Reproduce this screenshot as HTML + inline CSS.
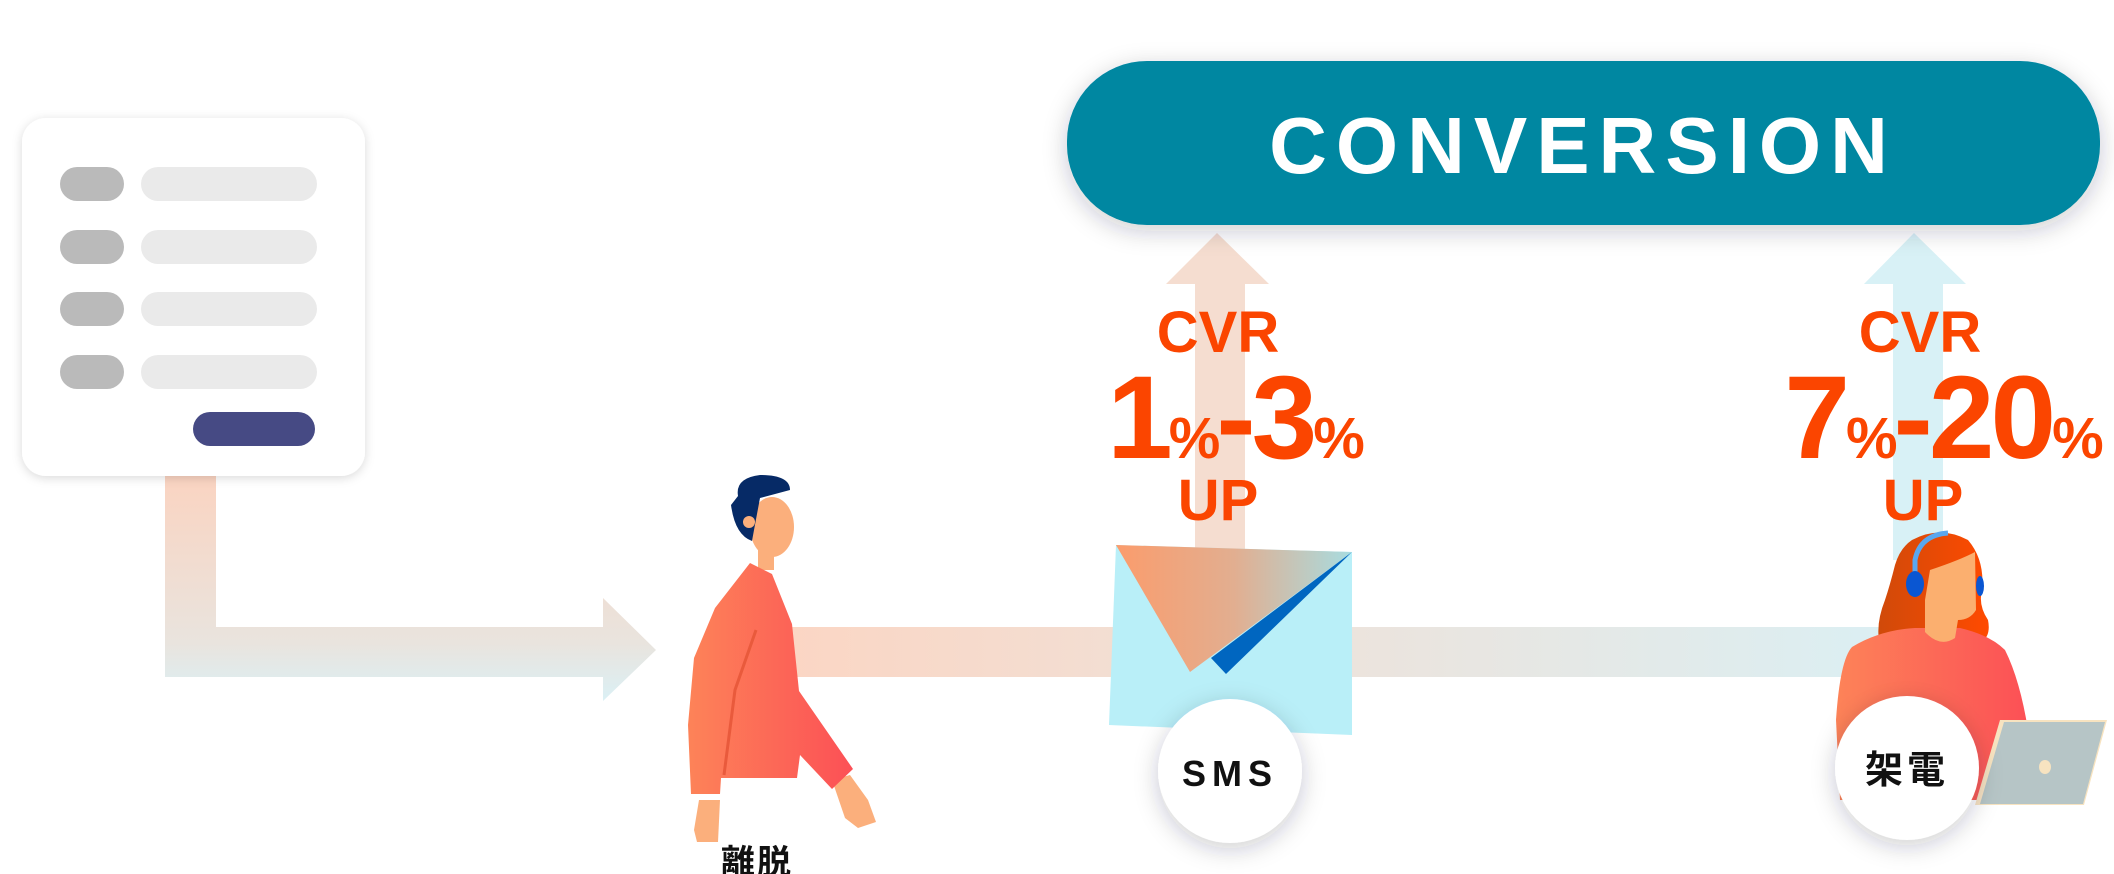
<!DOCTYPE html>
<html><head><meta charset="utf-8"><style>
html,body{margin:0;padding:0;background:#fff;}
body{width:2114px;height:874px;overflow:hidden;position:relative;}
svg{position:absolute;left:0;top:0;}
</style></head><body>
<svg width="2114" height="874" viewBox="0 0 2114 874" xmlns="http://www.w3.org/2000/svg">
<defs>
<linearGradient id="lbar" x1="0" y1="0" x2="0" y2="1">
<stop offset="0" stop-color="#fbd3c0"/><stop offset="0.75" stop-color="#e9e4de"/><stop offset="1" stop-color="#dbf0f5"/></linearGradient>
<linearGradient id="hbar" x1="0" y1="0" x2="1" y2="0">
<stop offset="0" stop-color="#fbd6c4"/><stop offset="0.45" stop-color="#eee2da"/><stop offset="1" stop-color="#dbeff3"/></linearGradient>
<linearGradient id="flap" x1="0" y1="0" x2="1" y2="0">
<stop offset="0" stop-color="#fb9c6c"/><stop offset="0.5" stop-color="#e2ae90"/><stop offset="1" stop-color="#a8dce0"/></linearGradient>
<linearGradient id="shirt" x1="0" y1="0" x2="1" y2="0">
<stop offset="0" stop-color="#fd8358"/><stop offset="1" stop-color="#fc5056"/></linearGradient>
<linearGradient id="hair" x1="0" y1="0" x2="1" y2="0">
<stop offset="0" stop-color="#d04a0a"/><stop offset="1" stop-color="#ff4a00"/></linearGradient>
<filter id="sh" x="-20%" y="-20%" width="140%" height="140%"><feDropShadow dx="0" dy="2" stdDeviation="5" flood-color="#000" flood-opacity="0.15"/></filter>
<filter id="sh2" x="-20%" y="-40%" width="140%" height="180%"><feDropShadow dx="0" dy="6" stdDeviation="12" flood-color="#223" flood-opacity="0.22"/></filter>
</defs>

<path d="M165 470 H216 V627 H603 V598 L656 650 L603 701 V677 H165 Z" fill="url(#lbar)"/>
<rect x="790" y="627" width="1100" height="50" fill="url(#hbar)"/>
<path d="M1195 560 V284 H1166 L1217 233 L1269 284 H1245 V560 Z" fill="#f5ddd0"/>
<path d="M1893 560 V284 H1864 L1914 233 L1966 284 H1943 V560 Z" fill="#d8f1f6"/>

<rect x="22" y="118" width="343" height="358" rx="24" fill="#fff" filter="url(#sh)"/>
<g fill="#bababa"><rect x="60" y="167" width="64" height="34" rx="17"/><rect x="60" y="230" width="64" height="34" rx="17"/><rect x="60" y="292" width="64" height="34" rx="17"/><rect x="60" y="355" width="64" height="34" rx="17"/></g>
<g fill="#eaeaea"><rect x="141" y="167" width="176" height="34" rx="17"/><rect x="141" y="230" width="176" height="34" rx="17"/><rect x="141" y="292" width="176" height="34" rx="17"/><rect x="141" y="355" width="176" height="34" rx="17"/></g>
<rect x="193" y="412" width="122" height="34" rx="17" fill="#464a84"/>

<rect x="1067" y="61" width="1033" height="164" rx="80" fill="#0287a1" filter="url(#sh2)"/>
<text x="1583" y="173" text-anchor="middle" font-family="Liberation Sans, sans-serif" font-weight="bold" font-size="80" letter-spacing="9" fill="#fff">CONVERSION</text>

<g font-family="Liberation Sans, sans-serif" font-weight="bold" fill="#fb4500" text-anchor="middle">
<text x="1218" y="352" font-size="58">CVR</text>
<text x="1234" y="458" font-size="118" letter-spacing="-4">1<tspan font-size="58">%</tspan>-3<tspan font-size="58">%</tspan></text>
<text x="1218" y="520" font-size="58">UP</text>
<text x="1920" y="352" font-size="58">CVR</text>
<text x="1942" y="458" font-size="118" letter-spacing="-4">7<tspan font-size="58">%</tspan>-20<tspan font-size="58">%</tspan></text>
<text x="1923" y="520" font-size="58">UP</text>
</g>

<g>
<path d="M699 800 L694 830 L697 842 L718 842 L720 800 Z" fill="#fbaf7c"/>
<path d="M832 780 L845 818 L858 828 L876 822 L868 800 L850 775 Z" fill="#fbaf7c"/>
<rect x="758" y="530" width="16" height="40" fill="#fbaf7c"/>
<path d="M750 563 L772 574 L792 624 L799 691 L853 769 L832 789 L800 755 L797 778 L721 778 L720 794 L691 794 L688 725 L694 658 L715 608 Z" fill="url(#shirt)"/>
<path d="M756 630 L735 690 L724 775" stroke="#e95a3c" stroke-width="3" fill="none"/>
<ellipse cx="772" cy="527" rx="22" ry="30" fill="#fbaf7c"/>
<path d="M738 496 Q735 478 760 475 Q790 475 790 490 L760 498 L754 530 L752 541 Q735 535 731 505 Z" fill="#062a66"/>
<circle cx="749" cy="522" r="6" fill="#fbaf7c"/>
</g>

<polygon points="1116,545 1352,552 1352,735 1109,725" fill="#b9eff8"/>
<polygon points="1116,545 1352,552 1190,672" fill="url(#flap)"/>
<polygon points="1352,552 1211,658 1226,674" fill="#0066c0"/>

<g>
<path d="M1912 540 Q1940 525 1968 540 Q1985 560 1982 590 Q1978 605 1988 620 Q1992 640 1975 645 L1880 645 Q1875 625 1885 600 Q1890 585 1895 565 Q1900 548 1912 540 Z" fill="url(#hair)"/>
<path d="M1852 647 Q1880 630 1915 628 L1960 628 Q1990 635 2005 650 Q2020 680 2028 730 L2020 800 L1840 800 L1836 720 Q1840 660 1852 647 Z" fill="url(#shirt)"/>
<path d="M1930 570 Q1960 560 1975 552 L1976 610 Q1970 620 1958 620 L1955 638 Q1940 648 1925 632 L1925 600 Z" fill="#fbaf6f"/>
<path d="M1915 585 L1915 560 Q1920 535 1948 533" stroke="#5aa7ef" stroke-width="5" fill="none"/>
<ellipse cx="1915" cy="584" rx="9" ry="13" fill="#0a56d2"/>
<ellipse cx="1980" cy="586" rx="4" ry="10" fill="#0a56d2"/>
<polygon points="2000,720 2107,720 2084,805 1975,805" fill="#f7e3c0"/>
<polygon points="2004,722 2105,722 2083,804 1980,804" fill="#b6c5c6"/>
<ellipse cx="2045" cy="767" rx="6" ry="7" fill="#f7e3c0"/>
</g>

<circle cx="1230" cy="771" r="72" fill="#fff" filter="url(#sh2)"/>
<text x="1230" y="786" text-anchor="middle" font-family="Liberation Sans, sans-serif" font-weight="bold" font-size="36" letter-spacing="6" fill="#111">SMS</text>
<circle cx="1907" cy="768" r="72" fill="#fff" filter="url(#sh2)"/>
<text x="1907" y="783" text-anchor="middle" font-family="Liberation Sans, 'Noto Sans CJK JP', sans-serif" font-weight="bold" font-size="38" letter-spacing="4" fill="#111">架電</text>

<text x="757" y="874" text-anchor="middle" font-family="Liberation Sans, 'Noto Sans CJK JP', sans-serif" font-weight="bold" font-size="34" letter-spacing="2" fill="#111">離脱</text>
</svg>
</body></html>
